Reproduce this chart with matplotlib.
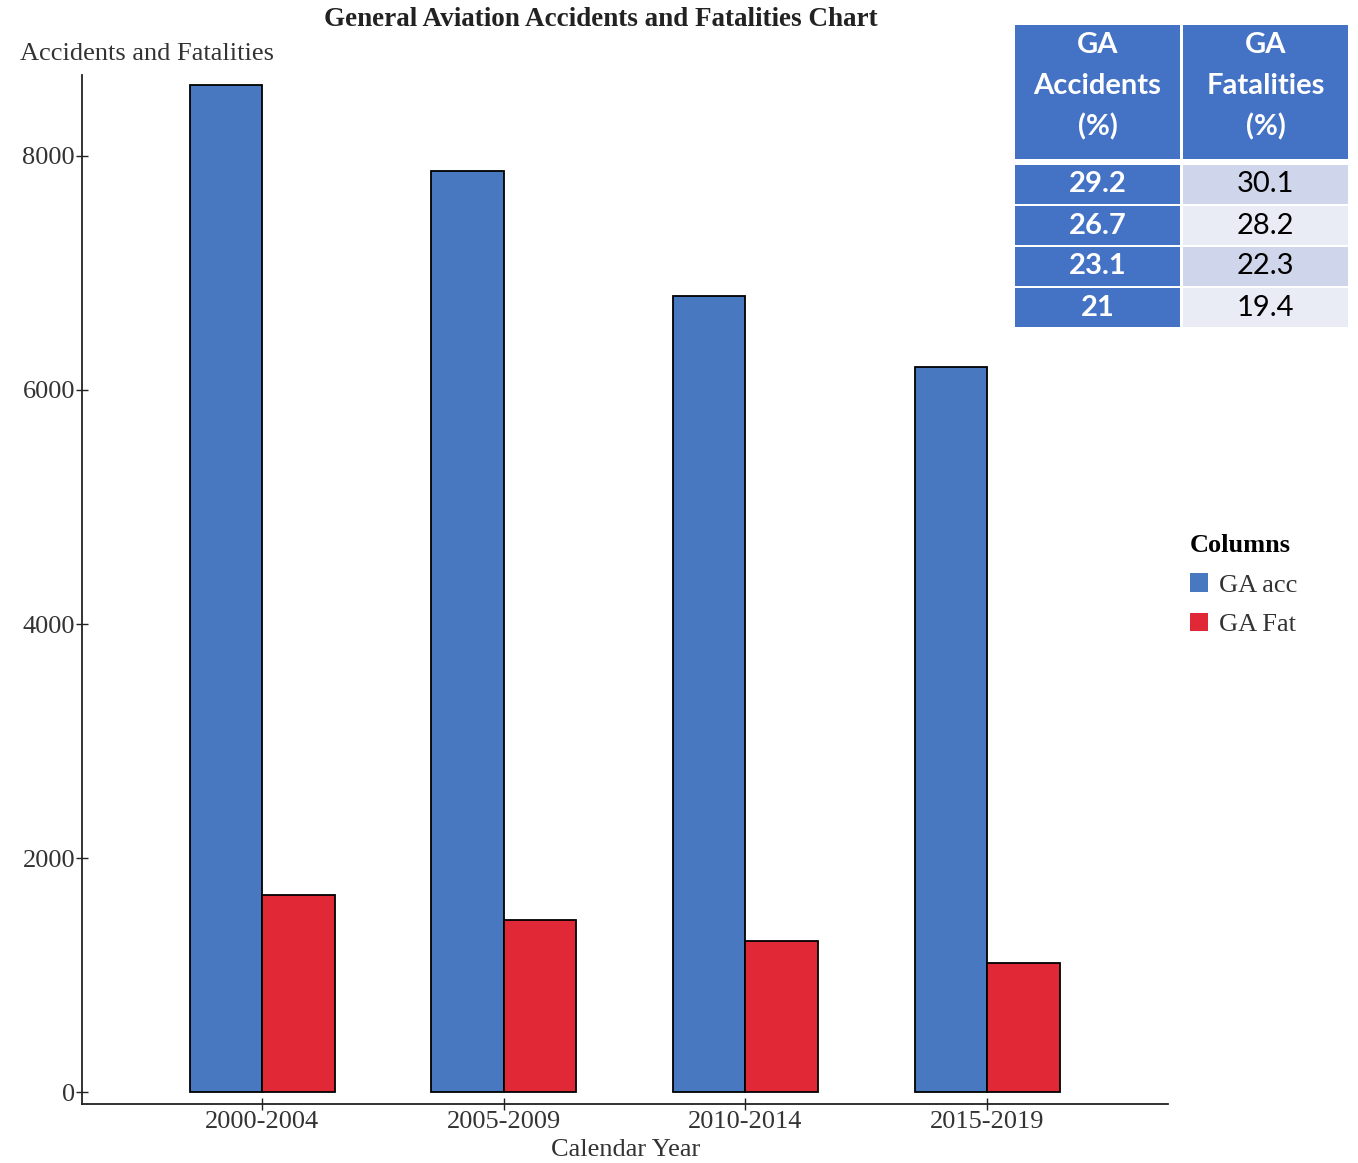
import numpy as np
import matplotlib

matplotlib.use('Agg')
import matplotlib.pyplot as plt
from matplotlib.patches import Rectangle, Patch

# data
periods = ['2000-2004', '2005-2009', '2010-2014', '2015-2019']
ga_acc = [8610, 7870, 6800, 6200]
ga_fat = [1685, 1470, 1290, 1105]
acc_pct = ['29.2', '26.7', '23.1', '21']
fat_pct = ['30.1', '28.2', '22.3', '19.4']

blue = '#4878c0'
red = '#e02837'
tbl_blue = '#4472c4'
tbl_light = ['#cfd5ea', '#e9ebf5']

serif = ['Liberation Serif', 'DejaVu Serif']
sans = ['Lato', 'Open Sans', 'DejaVu Sans']

W, H = 1358, 1163
fig = plt.figure(figsize=(W / 100, H / 100), dpi=100)

# main bar chart
ax = fig.add_axes([82 / W, 1 - 1104 / H, (1168 - 82) / W, (1104 - 75) / H])
x = np.arange(len(periods))
bw = 0.30
ax.bar(x - bw / 2, ga_acc, bw, color=blue, edgecolor='black', linewidth=1.3, label='GA acc')
ax.bar(x + bw / 2, ga_fat, bw, color=red, edgecolor='black', linewidth=1.3, label='GA Fat')

ax.set_xlim(-0.745, 3.748)
ax.set_ylim(-102, 8692)
ax.set_yticks([0, 2000, 4000, 6000, 8000])
ax.set_xticks(x)
ax.set_xticklabels(periods)
for s in ['top', 'right']:
    ax.spines[s].set_visible(False)
for s in ['left', 'bottom']:
    ax.spines[s].set_color('#222222')
    ax.spines[s].set_linewidth(1.3)
ax.tick_params(axis='both', direction='inout', length=8, width=1.0, colors='#222222',
               labelcolor='#333333', labelsize=19, pad=1)
for lbl in ax.get_xticklabels() + ax.get_yticklabels():
    lbl.set_family(serif)

fig.text(626 / W, 1 - 1150 / H, 'Calendar Year', ha='center', va='center',
         fontsize=19, family=serif, color='#333333')
fig.text(20 / W, 1 - 54 / H, 'Accidents and Fatalities', ha='left', va='center',
         fontsize=19, family=serif, color='#333333')
fig.text(601 / W, 1 - 19 / H, 'General Aviation Accidents and Fatalities Chart',
         ha='center', va='center', fontsize=19.5, family=serif, weight='bold', color='#222222')

# legend on the right
handles = [Patch(facecolor=blue, edgecolor='none', label='GA acc'),
           Patch(facecolor=red, edgecolor='none', label='GA Fat')]
leg = fig.legend(handles=handles, title='Columns', loc='upper left',
                 bbox_to_anchor=(1166 / W, 1 - 510 / H), frameon=False,
                 prop={'family': serif, 'size': 19}, handlelength=0.7,
                 handleheight=0.7, handletextpad=0.4, labelspacing=0.62,
                 alignment='left')
leg.get_title().set_fontproperties({'family': serif, 'size': 19, 'weight': 'bold'})
for t in leg.get_texts():
    t.set_color('#333333')

# percentage table drawn in pixel coordinates
ov = fig.add_axes([0, 0, 1, 1])
ov.set_xlim(0, W)
ov.set_ylim(H, 0)
ov.axis('off')
ov.patch.set_alpha(0)

cols = [(1015, 1180), (1183, 1348)]
heads = [['GA', 'Accidents', '(%)'], ['GA', 'Fatalities', '(%)']]
for (x0, x1), lines in zip(cols, heads):
    ov.add_patch(Rectangle((x0, 25), x1 - x0, 134, color=tbl_blue, lw=0))
    for j, line in enumerate(lines):
        ov.text((x0 + x1) / 2, 45 + 41 * j, line, ha='center', va='center',
                fontsize=21, family=sans, weight='bold', color='white')

row_h = 39
for i, (a, f) in enumerate(zip(acc_pct, fat_pct)):
    y0 = 165 + i * (row_h + 2)
    ov.add_patch(Rectangle((cols[0][0], y0), cols[0][1] - cols[0][0], row_h,
                           color=tbl_blue, lw=0))
    ov.add_patch(Rectangle((cols[1][0], y0), cols[1][1] - cols[1][0], row_h,
                           color=tbl_light[i % 2], lw=0))
    yc = y0 + row_h / 2
    ov.text(sum(cols[0]) / 2, yc, a, ha='center', va='center', fontsize=21,
            family=sans, weight='bold', color='white')
    ov.text(sum(cols[1]) / 2, yc, f, ha='center', va='center', fontsize=21,
            family=sans, color='black')

fig.savefig('out.png', dpi=100)
